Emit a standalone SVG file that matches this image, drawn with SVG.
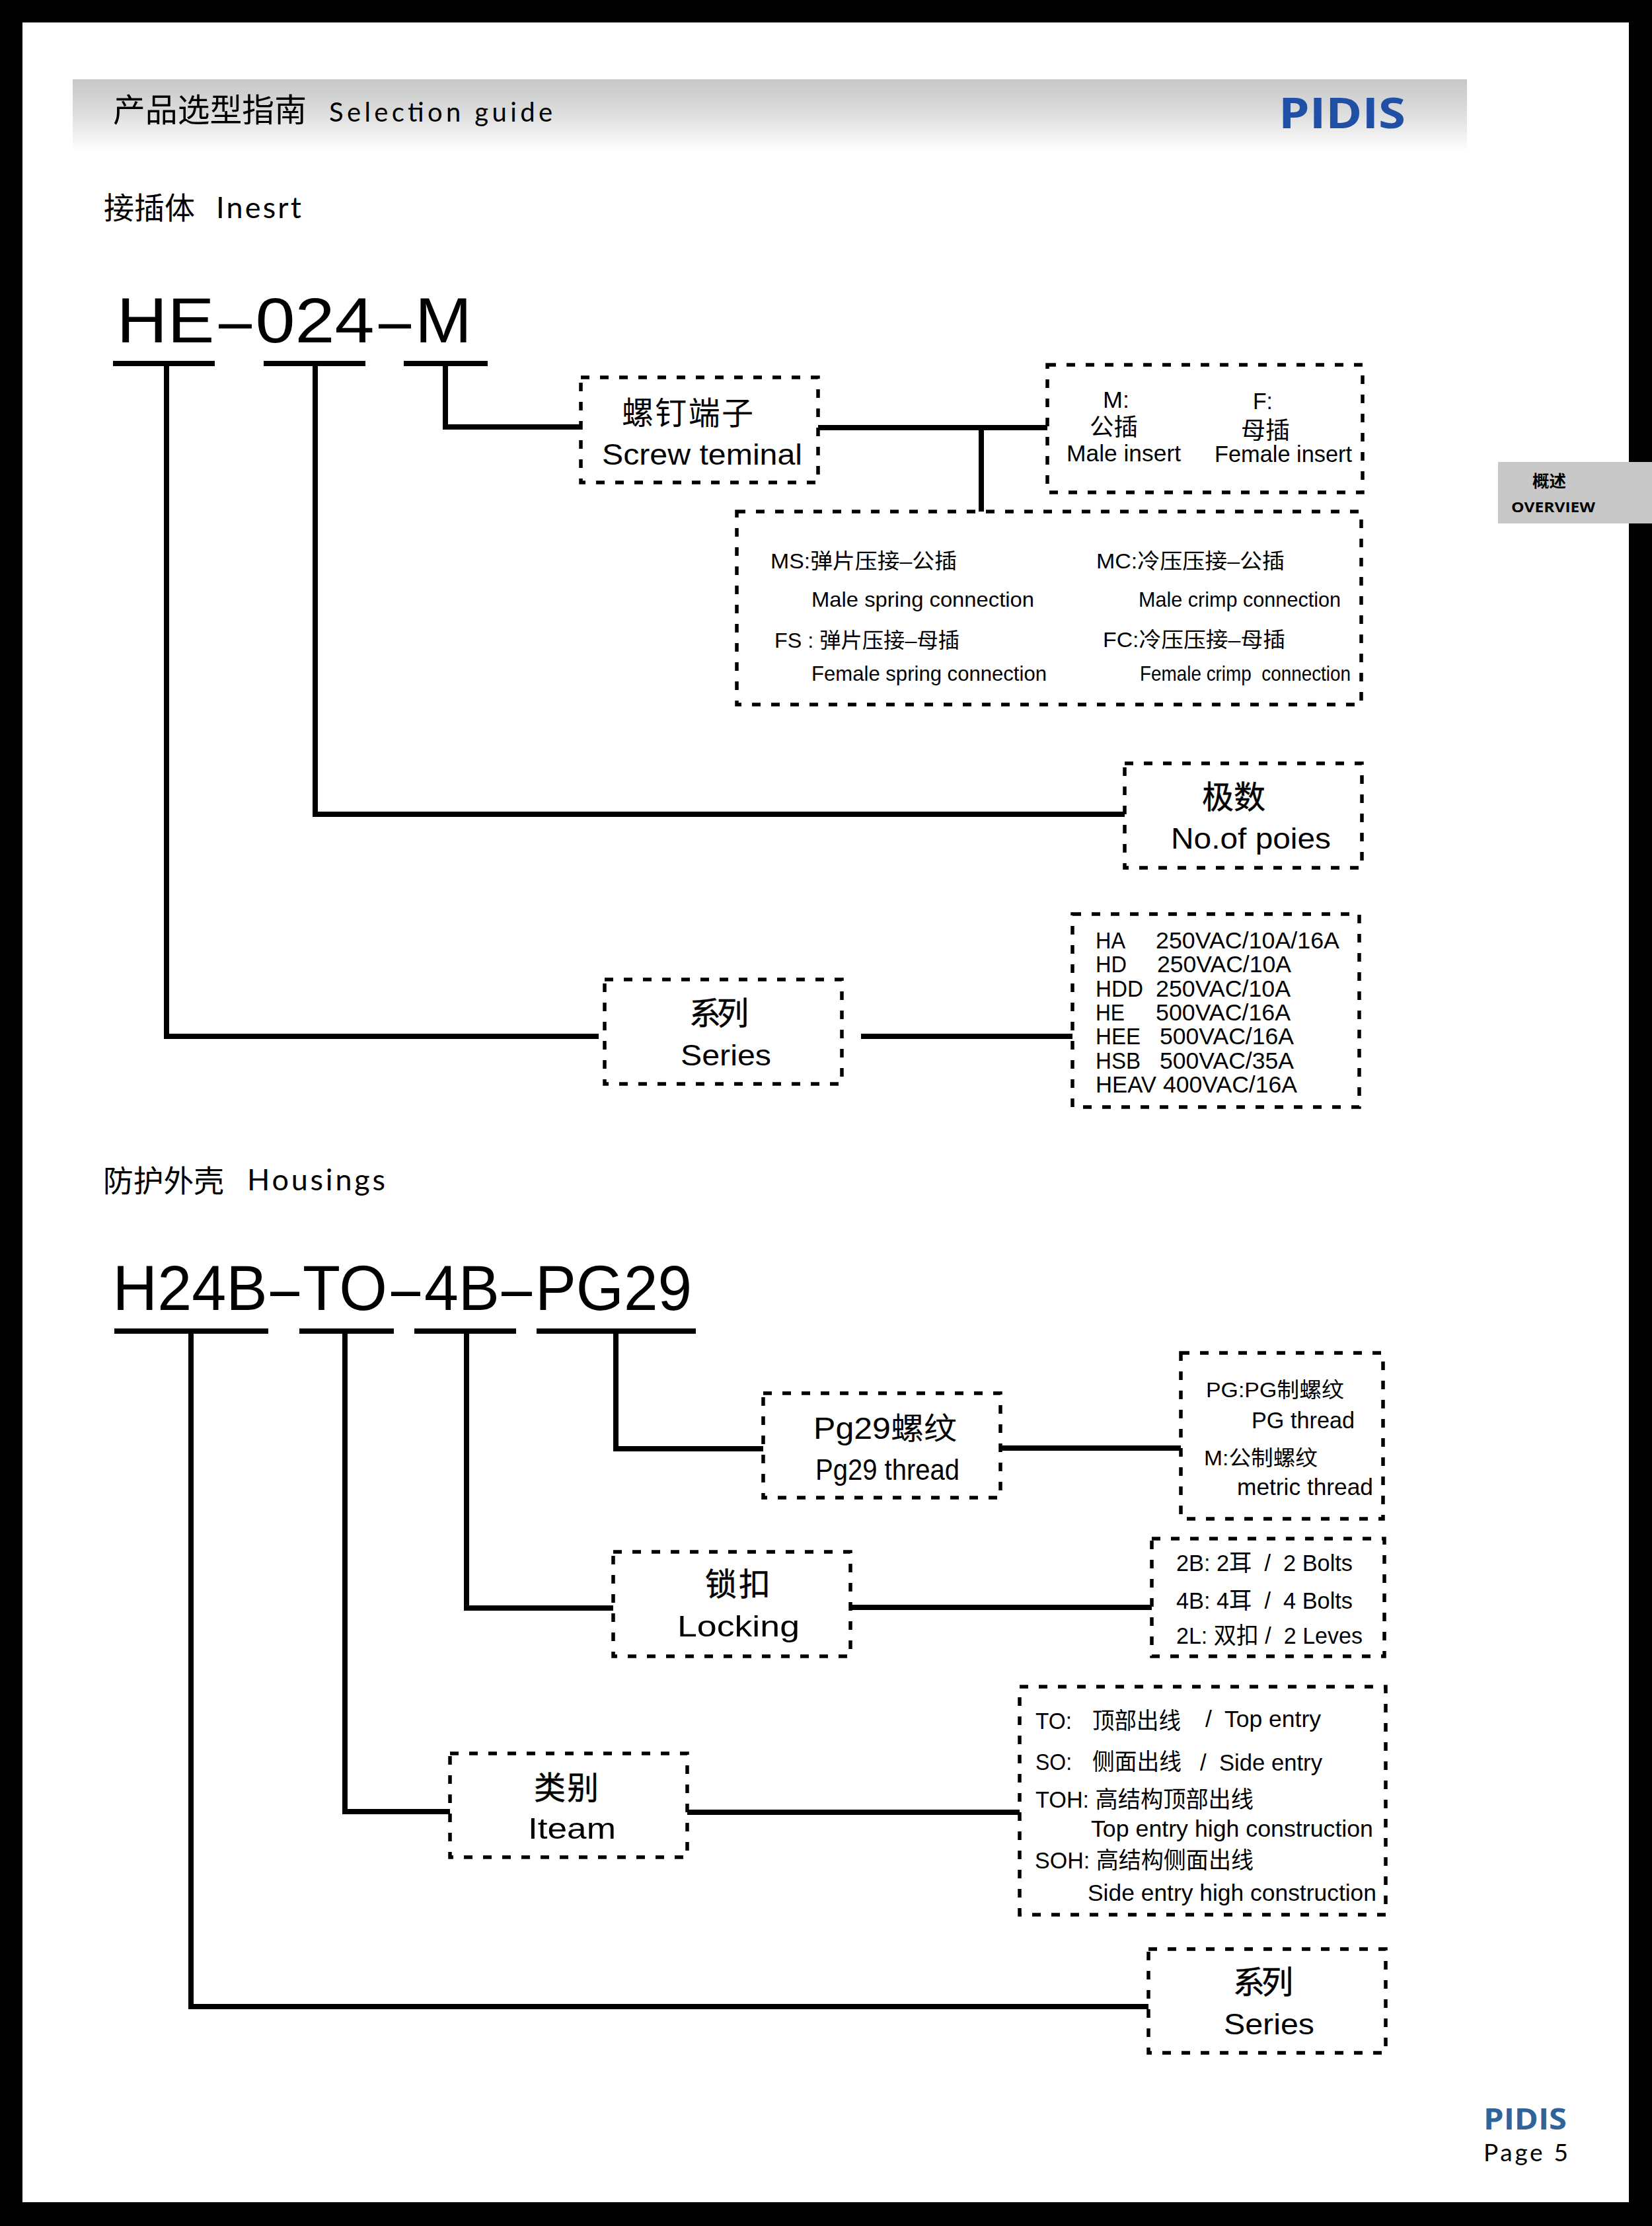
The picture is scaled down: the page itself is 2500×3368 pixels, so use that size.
<svg xmlns="http://www.w3.org/2000/svg" width="2500" height="3368" viewBox="0 0 2500 3368">
<style>
text{font-family:"Liberation Sans","Noto Sans CJK SC",sans-serif;fill:#000;white-space:pre}
.h{font-family:"Open Sans","Noto Sans CJK SC",sans-serif}
.l{font-family:"Lato","Noto Sans CJK SC",sans-serif}
.s{stroke:#000;stroke-width:0.5px}
.b{fill:none;stroke:#000;stroke-width:5.5;stroke-dasharray:13 16}
.c{fill:none;stroke:#000;stroke-width:8;stroke-linejoin:miter}
.u{fill:none;stroke:#000;stroke-width:8}
.t32{font-size:32px}.t34{font-size:35px}.t44{font-size:44px}.t48{font-size:48px}.code{font-size:96px}
</style>
<defs>
<linearGradient id="hg" x1="0" y1="0" x2="0" y2="1"><stop offset="0" stop-color="#c6c7c7"/><stop offset="0.45" stop-color="#dcdcdc"/><stop offset="1" stop-color="#ffffff"/></linearGradient>
</defs>
<rect width="2500" height="3368" fill="#000"/>
<rect x="34" y="34" width="2431" height="3298" fill="#fff"/>
<g id="header">
<rect x="110" y="120" width="2110" height="110" fill="url(#hg)"/>
<text class="h" x="171" y="184" font-size="49" textLength="293" lengthAdjust="spacingAndGlyphs">产品选型指南</text>
<text class="l" x="498" y="184" font-size="40" textLength="338" lengthAdjust="spacing">Selection guide</text>
<text class="h" x="1935" y="194" font-size="64" font-weight="700" style="fill:#2050a5" textLength="192" lengthAdjust="spacingAndGlyphs">PIDIS</text>
</g>
<g id="side-tab">
<rect x="2267" y="699" width="233" height="93" fill="#c8c8c8"/>
<text class="h" x="2319" y="737" font-size="25" font-weight="700" textLength="51" lengthAdjust="spacingAndGlyphs">概述</text>
<text class="h" x="2287" y="775" font-size="21" font-weight="700" textLength="127" lengthAdjust="spacingAndGlyphs">OVERVIEW</text>
</g>
<g id="footer">
<text class="h" x="2245" y="3222" font-size="44" font-weight="700" style="fill:#2f6399" textLength="126" lengthAdjust="spacingAndGlyphs">PIDIS</text>
<text class="l" x="2245" y="3270" font-size="37" textLength="128" lengthAdjust="spacing">Page 5</text>
</g>
<g id="section-titles">
<text class="h" x="157" y="331" font-size="46" textLength="138" lengthAdjust="spacingAndGlyphs">接插体</text>
<text class="l" x="327" y="330" font-size="45" textLength="129" lengthAdjust="spacing">Inesrt</text>
<text class="h" x="156" y="1803" font-size="46" textLength="183" lengthAdjust="spacingAndGlyphs">防护外壳</text>
<text class="l" x="374" y="1801" font-size="45" textLength="209" lengthAdjust="spacing">Housings</text>
<text class="code" x="176.6" y="518" textLength="147.7" lengthAdjust="spacingAndGlyphs">HE</text>
<text class="code" x="331" y="518" textLength="50" lengthAdjust="spacingAndGlyphs">–</text>
<text class="code" x="386.5" y="518" textLength="180" lengthAdjust="spacingAndGlyphs">024</text>
<text class="code" x="573" y="518" textLength="49" lengthAdjust="spacingAndGlyphs">–</text>
<text class="code" x="628" y="518" textLength="86" lengthAdjust="spacingAndGlyphs">M</text>
<text class="code" x="170.6" y="1982" textLength="234" lengthAdjust="spacingAndGlyphs">H24B</text>
<text class="code" x="409" y="1982" textLength="44" lengthAdjust="spacingAndGlyphs">–</text>
<text class="code" x="458" y="1982" textLength="128" lengthAdjust="spacingAndGlyphs">TO</text>
<text class="code" x="592" y="1982" textLength="44" lengthAdjust="spacingAndGlyphs">–</text>
<text class="code" x="642" y="1982" textLength="114" lengthAdjust="spacingAndGlyphs">4B</text>
<text class="code" x="759" y="1982" textLength="46" lengthAdjust="spacingAndGlyphs">–</text>
<text class="code" x="810" y="1982" textLength="237" lengthAdjust="spacingAndGlyphs">PG29</text>
</g>
<g id="connectors">
<path class="u" d="M171 550H325M399 550H553M611 550H738"/>
<path class="u" d="M173 2014H406M453 2014H596M627 2014H781M812 2014H1053"/>
<path class="c" d="M674 550V646H879"/>
<path class="c" d="M1238 647H1585"/>
<path class="c" d="M1485 647V774"/>
<path class="c" d="M477 550V1232H1702"/>
<path class="c" d="M252 550V1568H906"/>
<path class="c" d="M1303 1568H1623"/>
<path class="c" d="M932 2014V2192H1155"/>
<path class="c" d="M1514 2191H1787"/>
<path class="c" d="M706 2014V2433H928"/>
<path class="c" d="M1287 2432H1743"/>
<path class="c" d="M522 2014V2741H681"/>
<path class="c" d="M1040 2742H1543"/>
<path class="c" d="M289 2014V3036H1738"/>
</g>
<g id="node-screw"><rect class="b" x="879" y="571" width="359" height="159"/>
<text x="941" y="642" font-size="48" textLength="199" lengthAdjust="spacing">螺钉端子</text>
<text x="911" y="703" class="t44" textLength="303" lengthAdjust="spacingAndGlyphs">Screw teminal</text></g>
<g id="node-mf"><rect class="b" x="1585" y="552" width="477" height="193"/>
<text x="1669" y="617" class="t34" textLength="40" lengthAdjust="spacingAndGlyphs">M:</text>
<text x="1649" y="659" font-size="36" textLength="73" lengthAdjust="spacingAndGlyphs">公插</text>
<text x="1614" y="698" class="t34" textLength="173" lengthAdjust="spacingAndGlyphs">Male insert</text>
<text x="1896" y="619" class="t34" textLength="30" lengthAdjust="spacingAndGlyphs">F:</text>
<text x="1878" y="664" font-size="36" textLength="74" lengthAdjust="spacingAndGlyphs">母插</text>
<text x="1838" y="699" class="t34" textLength="208" lengthAdjust="spacingAndGlyphs">Female insert</text></g>
<g id="node-contacts"><rect class="b" x="1115" y="774" width="945" height="292"/>
<text x="1166" y="860" class="t32" textLength="282" lengthAdjust="spacingAndGlyphs">MS:弹片压接–公插</text>
<text x="1228" y="918" class="t32" textLength="337" lengthAdjust="spacingAndGlyphs">Male spring connection</text>
<text x="1172" y="980" class="t32" textLength="280" lengthAdjust="spacingAndGlyphs">FS : 弹片压接–母插</text>
<text x="1228" y="1030" class="t32" textLength="356" lengthAdjust="spacingAndGlyphs">Female spring connection</text>
<text x="1659" y="860" class="t32" textLength="285" lengthAdjust="spacingAndGlyphs">MC:冷压压接–公插</text>
<text x="1723" y="918" class="t32" textLength="306" lengthAdjust="spacingAndGlyphs">Male crimp connection</text>
<text x="1669" y="979" class="t32" textLength="276" lengthAdjust="spacingAndGlyphs">FC:冷压压接–母插</text>
<text x="1725" y="1030" class="t32" textLength="319" lengthAdjust="spacingAndGlyphs">Female crimp  connection</text></g>
<g id="node-poles"><rect class="b" x="1702" y="1155" width="359" height="158"/>
<text x="1819" y="1223" class="t48 s" textLength="96" lengthAdjust="spacing">极数</text>
<text x="1772" y="1284" class="t44" textLength="242" lengthAdjust="spacingAndGlyphs">No.of poies</text></g>
<g id="node-series-1"><rect class="b" x="915" y="1482" width="359" height="158"/>
<text x="1043" y="1550" class="t48 s" textLength="90" lengthAdjust="spacing">系列</text>
<text x="1030" y="1612" class="t44" textLength="137" lengthAdjust="spacingAndGlyphs">Series</text></g>
<g id="node-series-list"><rect class="b" x="1623" y="1383" width="434" height="292"/>
<text x="1658" y="1435" class="t34" textLength="45" lengthAdjust="spacingAndGlyphs">HA</text><text x="1749" y="1435" class="t34" textLength="278" lengthAdjust="spacingAndGlyphs">250VAC/10A/16A</text>
<text x="1658" y="1471" class="t34" textLength="47" lengthAdjust="spacingAndGlyphs">HD</text><text x="1751" y="1471" class="t34" textLength="203" lengthAdjust="spacingAndGlyphs">250VAC/10A</text>
<text x="1658" y="1508" class="t34" textLength="72" lengthAdjust="spacingAndGlyphs">HDD</text><text x="1749" y="1508" class="t34" textLength="204" lengthAdjust="spacingAndGlyphs">250VAC/10A</text>
<text x="1658" y="1544" class="t34" textLength="44" lengthAdjust="spacingAndGlyphs">HE</text><text x="1749" y="1544" class="t34" textLength="204" lengthAdjust="spacingAndGlyphs">500VAC/16A</text>
<text x="1658" y="1580" class="t34" textLength="68" lengthAdjust="spacingAndGlyphs">HEE</text><text x="1755" y="1580" class="t34" textLength="203" lengthAdjust="spacingAndGlyphs">500VAC/16A</text>
<text x="1658" y="1617" class="t34" textLength="68" lengthAdjust="spacingAndGlyphs">HSB</text><text x="1755" y="1617" class="t34" textLength="203" lengthAdjust="spacingAndGlyphs">500VAC/35A</text>
<text x="1658" y="1653" class="t34" textLength="92" lengthAdjust="spacingAndGlyphs">HEAV</text><text x="1760" y="1653" class="t34" textLength="203" lengthAdjust="spacingAndGlyphs">400VAC/16A</text></g>
<g id="node-pg29"><rect class="b" x="1155" y="2108" width="359" height="158"/>
<text x="1231" y="2177" font-size="46" textLength="217" lengthAdjust="spacingAndGlyphs">Pg29螺纹</text>
<text x="1234" y="2239" class="t44" textLength="218" lengthAdjust="spacingAndGlyphs">Pg29 thread</text></g>
<g id="node-thread"><rect class="b" x="1787" y="2047" width="306" height="251"/>
<text x="1825" y="2114" class="t32" textLength="209" lengthAdjust="spacingAndGlyphs">PG:PG制螺纹</text>
<text x="1894" y="2161" class="t34" textLength="156" lengthAdjust="spacingAndGlyphs">PG thread</text>
<text x="1822" y="2217" class="t32" textLength="172" lengthAdjust="spacingAndGlyphs">M:公制螺纹</text>
<text x="1872" y="2262" class="t34" textLength="206" lengthAdjust="spacingAndGlyphs">metric thread</text></g>
<g id="node-locking"><rect class="b" x="928" y="2348" width="359" height="158"/>
<text x="1067" y="2414" class="t48 s" textLength="99" lengthAdjust="spacing">锁扣</text>
<text x="1025" y="2476" class="t44" textLength="185" lengthAdjust="spacingAndGlyphs">Locking</text></g>
<g id="node-bolts"><rect class="b" x="1743" y="2328" width="352" height="178"/>
<text x="1780" y="2377" class="t34" textLength="267" lengthAdjust="spacingAndGlyphs">2B: 2耳  /  2 Bolts</text>
<text x="1780" y="2434" class="t34" textLength="267" lengthAdjust="spacingAndGlyphs">4B: 4耳  /  4 Bolts</text>
<text x="1780" y="2487" class="t34" textLength="282" lengthAdjust="spacingAndGlyphs">2L: 双扣 /  2 Leves</text></g>
<g id="node-item"><rect class="b" x="681" y="2653" width="359" height="157"/>
<text x="808" y="2722" class="t48 s" textLength="98" lengthAdjust="spacing">类别</text>
<text x="799" y="2782" class="t44" textLength="133" lengthAdjust="spacingAndGlyphs">Iteam</text></g>
<g id="node-entry"><rect class="b" x="1543" y="2552" width="554" height="345"/>
<text x="1567" y="2616" class="t34" textLength="55" lengthAdjust="spacingAndGlyphs">TO:</text><text x="1653" y="2616" class="t34" textLength="134" lengthAdjust="spacingAndGlyphs">顶部出线</text><text x="1824" y="2613" class="t34" textLength="175" lengthAdjust="spacingAndGlyphs">/  Top entry</text>
<text x="1567" y="2678" class="t34" textLength="55" lengthAdjust="spacingAndGlyphs">SO:</text><text x="1653" y="2678" class="t34" textLength="135" lengthAdjust="spacingAndGlyphs">侧面出线</text><text x="1816" y="2679" class="t34" textLength="185" lengthAdjust="spacingAndGlyphs">/  Side entry</text>
<text x="1567" y="2735" class="t34" textLength="330" lengthAdjust="spacingAndGlyphs">TOH: 高结构顶部出线</text>
<text x="1651" y="2779" class="t34" textLength="427" lengthAdjust="spacingAndGlyphs">Top entry high construction</text>
<text x="1566" y="2827" class="t34" textLength="331" lengthAdjust="spacingAndGlyphs">SOH: 高结构侧面出线</text>
<text x="1646" y="2876" class="t34" textLength="437" lengthAdjust="spacingAndGlyphs">Side entry high construction</text></g>
<g id="node-series-2"><rect class="b" x="1738" y="2949" width="359" height="157"/>
<text x="1866" y="3016" class="t48 s" textLength="91" lengthAdjust="spacing">系列</text>
<text x="1852" y="3078" class="t44" textLength="137" lengthAdjust="spacingAndGlyphs">Series</text></g>
</svg>
